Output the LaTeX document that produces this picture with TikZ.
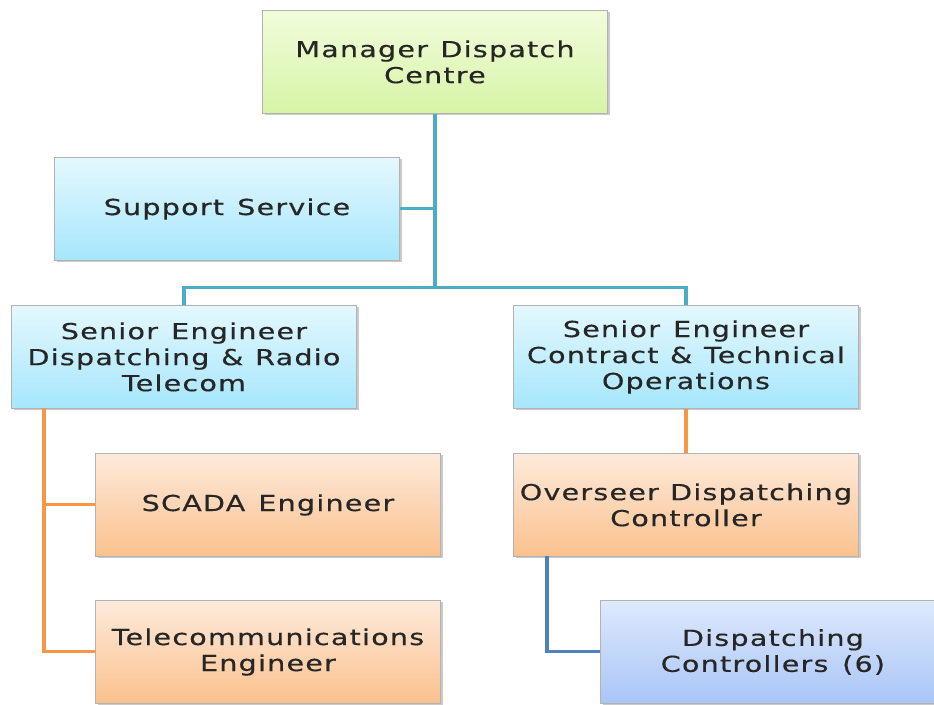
\documentclass[tikz,border=0pt]{standalone}
\usepackage{fontspec}
\setmainfont{DejaVu Sans}
\newfontfamily\boxfont[FakeStretch=1.3,LetterSpace=5.5,FakeBold=0.4]{DejaVu Sans}
\newcommand\wordgap{\spaceskip=11pt plus 2pt minus 1pt\relax}
\usetikzlibrary{shadows}
\definecolor{grtop}{HTML}{F2FCDC}
\definecolor{grbot}{HTML}{D6F4A6}
\definecolor{bltop}{HTML}{E4F8FE}
\definecolor{blbot}{HTML}{A6E6FC}
\definecolor{ortop}{HTML}{FDEADB}
\definecolor{orbot}{HTML}{FBC18E}
\definecolor{pbtop}{HTML}{DEE9FC}
\definecolor{pbbot}{HTML}{A9C5F7}
\definecolor{tealln}{HTML}{4BACC6}
\definecolor{orangeln}{HTML}{F79646}
\definecolor{blueln}{HTML}{4F81BD}
\begin{document}
\begin{tikzpicture}[x=1pt,y=-1pt,
  box/.style={draw=black!30, line width=0.9pt, minimum width=345pt, minimum height=103pt,
    text width=344pt, align=center, inner sep=0pt, anchor=north west,
    font=\boxfont\fontsize{22}{26}\selectfont, text=black!85,
    execute at begin node=\wordgap,
    drop shadow={shadow xshift=3pt, shadow yshift=-2pt, opacity=0.35, fill=black!60}},
  greenbox/.style={box, top color=grtop, bottom color=grbot},
  bluebox/.style={box, top color=bltop, bottom color=blbot},
  orangebox/.style={box, top color=ortop, bottom color=orbot},
  pbbox/.style={box, top color=pbtop, bottom color=pbbot},
  tv/.style={draw=tealln, line width=4.8pt},
  th/.style={draw=tealln, line width=3pt},
  ov/.style={draw=orangeln, line width=4.2pt},
  oh/.style={draw=orangeln, line width=3pt},
  bv/.style={draw=blueln, line width=4.2pt},
  bh/.style={draw=blueln, line width=3pt}]
\useasboundingbox (0,0) rectangle (934,704);
\fill[white] (0,0) rectangle (934,704);
\coordinate (busy) at (0,287);
\coordinate (oL) at (44,408);
\coordinate (bL) at (547,556);
\node[greenbox] (mgr) at (262,10) {Manager Dispatch\\Centre};
\node[bluebox] (sup) at (54,157) {Support Service};
\node[bluebox] (sed) at (11,305) {Senior Engineer\\Dispatching \& Radio\\Telecom};
\node[bluebox] (sec) at (513,305) {Senior Engineer\\Contract \& Technical\\Operations};
\node[orangebox] (sca) at (95,453) {SCADA Engineer};
\node[orangebox] (tel) at (95,600) {Telecommunications\\Engineer};
\node[orangebox] (ovr) at (513,453) {Overseer Dispatching\\Controller};
\node[pbbox] (dc) at (600,600) {Dispatching\\Controllers (6)};
\coordinate (bl) at (sed.north |- busy);
\coordinate (br) at (sec.north |- busy);
\coordinate (ot) at (oL |- tel.west);
\coordinate (bt) at (bL |- dc.west);
\draw[th] (bl) -- (br);
\draw[th] (sup.east) -- (sup.east -| mgr.south);
\draw[tv] (mgr.south) -- ([yshift=-1.5pt]mgr.south |- busy);
\draw[tv] (sed.north) -- ([yshift=1.5pt]bl);
\draw[tv] (sec.north) -- ([yshift=1.5pt]br);
\draw[oh] (ot) -- (tel.west);
\draw[oh] (oL |- sca.west) -- (sca.west);
\draw[ov] (oL) -- ([yshift=-1.5pt]ot);
\draw[ov] (sec.south) -- (ovr.north);
\draw[bh] (bt) -- (dc.west);
\draw[bv] (bL) -- ([yshift=-1.5pt]bt);
\end{tikzpicture}
\end{document}
